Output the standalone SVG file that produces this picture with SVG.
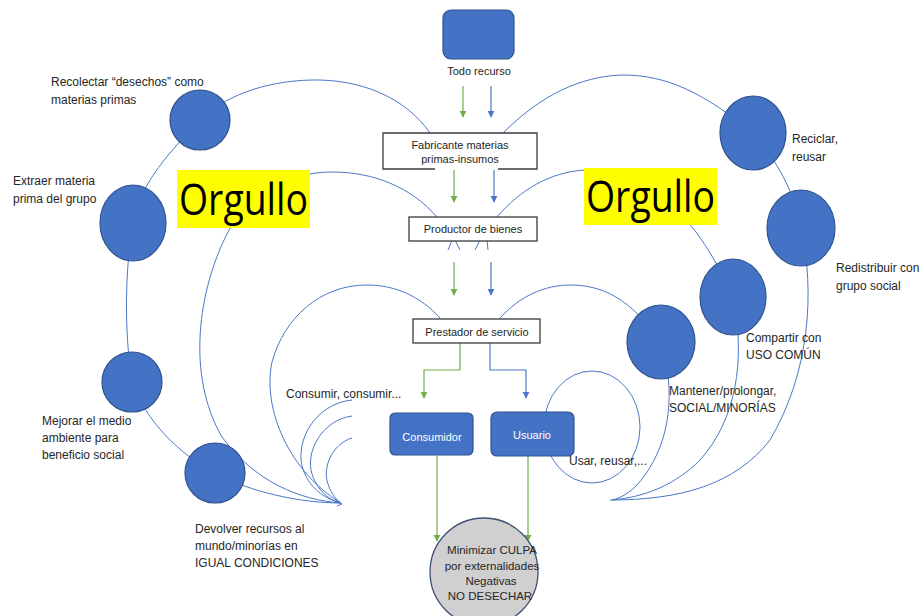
<svg xmlns="http://www.w3.org/2000/svg" width="922" height="616" viewBox="0 0 922 616">
<style>
.arc{fill:none;stroke:#4a78c8;stroke-width:1}
.ga{fill:none;stroke:#70ad47;stroke-width:1.2}
.ba{fill:none;stroke:#4a78c8;stroke-width:1.2}
.node{fill:#4472c4;stroke:#2f528f;stroke-width:1.2}
.box{fill:#fff;stroke:#3a3a3a;stroke-width:1.3}
.lbl{font-family:"Liberation Sans",Arial,sans-serif;font-size:12px;fill:#262626}
.bt{font-family:"Liberation Sans",Arial,sans-serif;font-size:11px;fill:#262626;text-anchor:middle}
.wt{font-family:"Liberation Sans",Arial,sans-serif;font-size:11px;fill:#fff;text-anchor:middle}
.org{font-family:"Open Sans","Noto Sans",sans-serif;font-size:44px;fill:#000}
</style>
<defs>
<marker id="mg" viewBox="0 0 10 10" refX="9" refY="5" markerWidth="6" markerHeight="6" orient="auto"><path d="M0,0 L10,5 L0,10 z" fill="#70ad47"/></marker>
<marker id="mb" viewBox="0 0 10 10" refX="9" refY="5" markerWidth="6" markerHeight="6" orient="auto"><path d="M0,0 L10,5 L0,10 z" fill="#4a78c8"/></marker>
</defs>
<rect width="922" height="616" fill="#fff"/>
<g id="connectors">
<!-- left arcs -->
<path class="arc" d="M430,133 C405,97 360,79 312,80 C262,81 222,98 200,120 C172,150 140,182 133,223 C125,270 124,330 132,382 C145,420 180,455 215,473 C250,492 300,503 341,503"/>
<path class="arc" d="M437,217 C410,186 372,172 332,172 C285,172 245,198 228,232 C198,290 186,375 222,437 C255,482 300,500 341,503"/>
<path class="arc" d="M440,318 C420,296 395,285 367,285 C320,285 284,318 272,362 C262,410 290,472 341,503"/>
<path class="arc" d="M352,400 C315,404 296,440 302,466 C308,488 325,499 341,503"/>
<path class="arc" d="M352,416 C322,420 305,452 312,474 C318,492 330,500 341,503"/>
<path class="arc" d="M352,438 C332,444 322,468 328,484 C332,496 338,501 341,503"/>
<path class="arc" d="M336,500 L342,504 L337,506"/>
<!-- right arcs -->
<path class="arc" d="M503,133 C540,96 580,76 623,75 C668,75 705,94 753,133 C776,160 794,190 801,228 C815,292 810,372 770,440 C735,485 680,500 610,500"/>
<path class="arc" d="M497,217 C520,190 550,172 585,170 C640,168 692,205 733,297 C746,360 736,420 700,460 C675,485 645,497 612,500"/>
<path class="arc" d="M500,318 C520,296 545,285 570,285 C602,285 630,298 661,342 C676,392 670,440 645,475 C635,490 622,498 612,500"/>
<ellipse class="arc" cx="592" cy="427" rx="48" ry="56"/>
<!-- ticks under productor -->
<path class="arc" d="M448,250 L452,240 M455,240 L460,250 M475,250 L480,240 M487,240 L488,250"/>
<!-- flow arrows -->
<line class="ga" x1="463" y1="86" x2="463" y2="117" marker-end="url(#mg)"/>
<line class="ba" x1="491" y1="86" x2="491" y2="117" marker-end="url(#mb)"/>
<line class="ga" x1="454" y1="170" x2="454" y2="202" marker-end="url(#mg)"/>
<line class="ba" x1="494" y1="170" x2="494" y2="202" marker-end="url(#mb)"/>
<line class="ga" x1="454" y1="262" x2="454" y2="295" marker-end="url(#mg)"/>
<line class="ba" x1="491" y1="262" x2="491" y2="295" marker-end="url(#mb)"/>
<path class="ga" d="M460,343 V370 H424 V398" marker-end="url(#mg)"/>
<path class="ba" d="M490,343 V370 H526 V398" marker-end="url(#mb)"/>
<line class="ga" x1="437" y1="456" x2="437" y2="541" marker-end="url(#mg)"/>
<line class="ga" x1="528" y1="456" x2="528" y2="541" marker-end="url(#mg)"/>
</g>
<g id="orgullo-left"><rect x="177" y="170" width="133" height="58" fill="#ffff00"/><text class="org" x="179" y="215" textLength="129" lengthAdjust="spacingAndGlyphs">Orgullo</text></g>
<g id="orgullo-right"><rect x="584" y="168" width="133" height="57" fill="#ffff00"/><text class="org" x="586" y="212" textLength="129" lengthAdjust="spacingAndGlyphs">Orgullo</text></g>
<g id="todo-recurso"><rect class="node" x="443" y="10" width="71" height="49" rx="8"/><text class="bt" x="479" y="75">Todo recurso</text></g>
<g id="fabricante"><rect x="383" y="133" width="154" height="36" fill="#fff"/><path class="box" d="M435,169 H383 V133 H537 V169 H498"/><text class="bt" x="460" y="149">Fabricante materias</text><text class="bt" x="460" y="163">primas-insumos</text></g>
<g id="productor"><rect class="box" x="409" y="217" width="128" height="24"/><text class="bt" x="473" y="233">Productor de bienes</text></g>
<g id="prestador"><rect class="box" x="413" y="319" width="127" height="24"/><text class="bt" x="477" y="336">Prestador de servicio</text></g>
<g id="consumidor"><rect class="node" x="390" y="413" width="83" height="42" rx="5"/><text class="wt" x="432" y="441">Consumidor</text></g>
<g id="usuario"><rect class="node" x="491" y="412" width="83" height="44" rx="6"/><text class="wt" x="532" y="439">Usuario</text></g>
<g id="minimizar"><circle cx="484" cy="572" r="54" fill="#d0d0d0" stroke="#3f5272" stroke-width="1.3"/>
<text class="bt" style="font-size:11.5px" x="492" y="554">Minimizar CULPA</text>
<text class="bt" style="font-size:11.5px" x="492" y="570">por externalidades</text>
<text class="bt" style="font-size:11.5px" x="491" y="585">Negativas</text>
<text class="bt" style="font-size:11.5px" x="490" y="600">NO DESECHAR</text></g>
<g id="recolectar"><ellipse class="node" cx="200" cy="120" rx="30" ry="30"/><text class="lbl" x="51" y="86">Recolectar “desechos” como</text><text class="lbl" x="51" y="104">materias primas</text></g>
<g id="extraer"><ellipse class="node" cx="133" cy="223" rx="33" ry="38"/><text class="lbl" x="13" y="185">Extraer materia</text><text class="lbl" x="13" y="203">prima del grupo</text></g>
<g id="mejorar"><ellipse class="node" cx="132" cy="382" rx="30" ry="30"/><text class="lbl" x="42" y="425">Mejorar el medio</text><text class="lbl" x="42" y="442">ambiente para</text><text class="lbl" x="42" y="459">beneficio social</text></g>
<g id="devolver"><ellipse class="node" cx="215" cy="473" rx="30" ry="30"/><text class="lbl" x="195" y="533">Devolver recursos al</text><text class="lbl" x="195" y="550">mundo/minorías en</text><text class="lbl" x="195" y="567">IGUAL CONDICIONES</text></g>
<g id="reciclar"><ellipse class="node" cx="753" cy="133" rx="33" ry="37"/><text class="lbl" x="792" y="143">Reciclar,</text><text class="lbl" x="792" y="161">reusar</text></g>
<g id="redistribuir"><ellipse class="node" cx="801" cy="228" rx="34" ry="38"/><text class="lbl" x="836" y="272">Redistribuir con</text><text class="lbl" x="836" y="290">grupo social</text></g>
<g id="compartir"><ellipse class="node" cx="733" cy="297" rx="33" ry="38"/><text class="lbl" x="746" y="342">Compartir con</text><text class="lbl" x="746" y="359">USO COMÚN</text></g>
<g id="mantener"><ellipse class="node" cx="661" cy="342" rx="34" ry="37"/><text class="lbl" x="669" y="395">Mantener/prolongar,</text><text class="lbl" x="669" y="412">SOCIAL/MINORÍAS</text></g>
<g id="consumir-label"><text class="lbl" x="286" y="398">Consumir, consumir...</text></g>
<g id="usar-label"><text class="lbl" x="569" y="465">Usar, reusar,...</text></g>
</svg>
